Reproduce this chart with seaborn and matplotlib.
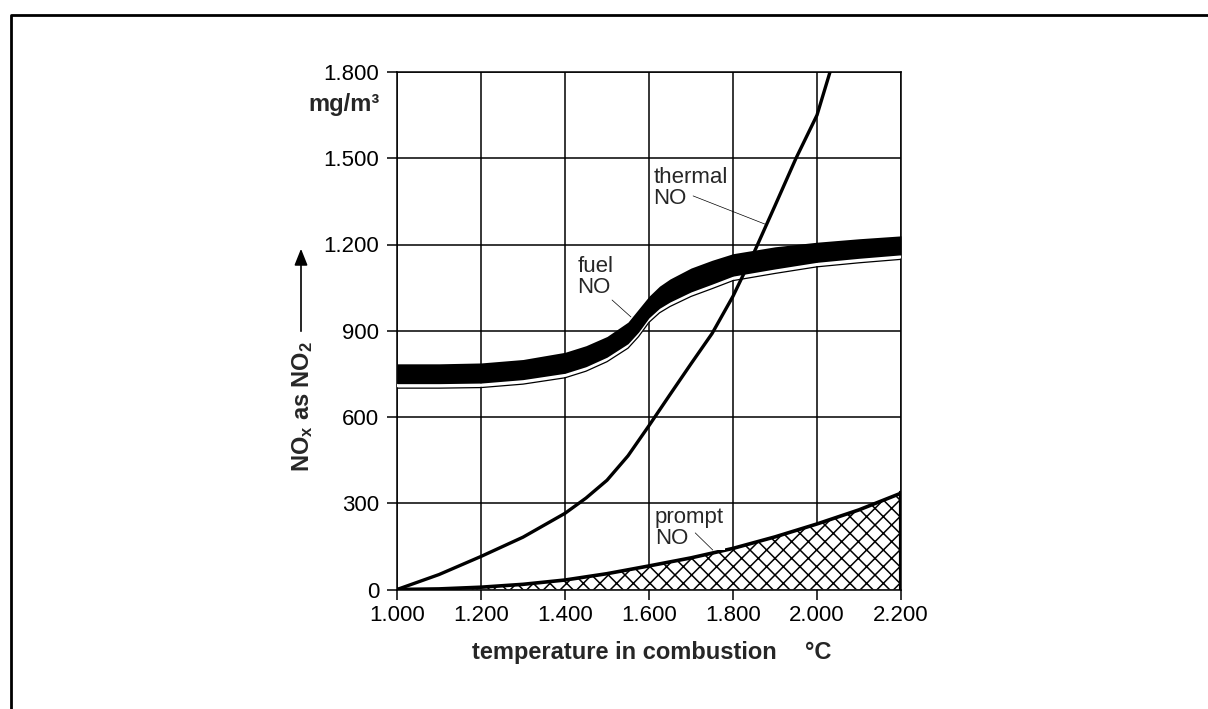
import numpy as np
import pandas as pd
import matplotlib
matplotlib.use("Agg")
import matplotlib.pyplot as plt
import matplotlib.transforms as mtransforms
from matplotlib.lines import Line2D
from matplotlib.patches import FancyArrowPatch
from matplotlib.ticker import FuncFormatter
import seaborn as sns

# --- Data ---
thermal_temp = [1000, 1100, 1200, 1300, 1400, 1450, 1500, 1550, 1600, 1650,
                1700, 1750, 1800, 1850, 1900, 1950, 2000, 2031]
thermal_no = [0, 52, 115, 182, 265, 318, 380, 465, 570, 678,
              785, 890, 1020, 1172, 1335, 1500, 1650, 1800]

fuel_temp = [1000, 1100, 1200, 1300, 1400, 1450, 1500, 1550, 1575, 1600, 1625,
             1650, 1700, 1750, 1800, 1900, 2000, 2100, 2200]
fuel_top = [785, 785, 788, 800, 825, 848, 880, 930, 975, 1020, 1055,
            1080, 1118, 1145, 1168, 1192, 1208, 1220, 1230]
fuel_bottom = [716, 716, 718, 730, 752, 775, 808, 855, 895, 945, 978,
               1000, 1035, 1062, 1090, 1115, 1138, 1152, 1164]

prompt_temp = [1000, 1100, 1200, 1300, 1400, 1500, 1600, 1700, 1800, 1900, 2000, 2100, 2200]
prompt_no = [0, 2, 8, 18, 33, 55, 82, 110, 143, 183, 228, 277, 335]

x_ticks = [1000, 1200, 1400, 1600, 1800, 2000, 2200]
y_ticks = [0, 300, 600, 900, 1200, 1500, 1800]

thermal = pd.DataFrame({"temp": thermal_temp, "no": thermal_no})
prompt = pd.DataFrame({"temp": prompt_temp, "no": prompt_no})

# --- Style ---
sns.set_theme(style="white")
plt.rcParams["font.family"] = ["Liberation Sans", "DejaVu Sans"]
plt.rcParams["mathtext.fontset"] = "custom"
plt.rcParams["mathtext.rm"] = "Liberation Sans"
plt.rcParams["mathtext.bf"] = "Liberation Sans:bold"
plt.rcParams["hatch.linewidth"] = 1.1
plt.rcParams["hatch.color"] = "black"

W, H = 1208, 709
fig = plt.figure(figsize=(W / 100, H / 100), dpi=100)
ax = fig.add_axes([397 / W, 1 - 589.5 / H, 504 / W, 517.5 / H])

# grid
for xt in x_ticks:
    ax.axvline(xt, color="black", lw=1.1, zorder=1)
for yt in y_ticks:
    ax.axhline(yt, color="black", lw=1.1, zorder=1)

# fuel NO band with the thin line just below it
off_white = mtransforms.offset_copy(ax.transData, fig=fig, x=0, y=-2, units="dots")
off_thin = mtransforms.offset_copy(ax.transData, fig=fig, x=0, y=-4.5, units="dots")
ax.plot(fuel_temp, fuel_bottom, color="white", lw=2.5, transform=off_white, zorder=2.8)
ax.plot(fuel_temp, fuel_bottom, color="black", lw=0.9, transform=off_thin, zorder=2.9)
ax.fill_between(fuel_temp, fuel_bottom, fuel_top, color="black", lw=0, zorder=3)

# prompt NO hatched area
ax.fill_between(prompt_temp, 0, prompt_no, facecolor="white", edgecolor="black",
                hatch="xx", lw=0, zorder=2)
sns.lineplot(data=prompt, x="temp", y="no", ax=ax, color="black", lw=2.6,
             estimator=None, sort=False, zorder=4)
ax.plot([prompt_temp[-1], prompt_temp[-1]], [0, prompt_no[-1]], color="black",
        lw=3, zorder=4, solid_capstyle="projecting")

# thermal NO line
sns.lineplot(data=thermal, x="temp", y="no", ax=ax, color="black", lw=2.4,
             estimator=None, sort=False, zorder=4)

# labels for the curves
lab_kw = dict(fontsize=16, ha="left", va="top", linespacing=1.0, zorder=5,
              bbox=dict(facecolor="white", edgecolor="none", pad=0.5))
ax.text(1610, 1470, "thermal\nNO", **lab_kw)
ax.plot([1705, 1876], [1369, 1271], color="black", lw=0.5, zorder=5)
ax.text(1429, 1160, "fuel\nNO", **lab_kw)
ax.plot([1512, 1557], [1007, 948], color="black", lw=0.5, zorder=5)
ax.text(1614, 286, "prompt\nNO", **lab_kw)
ax.plot([1710, 1752], [197, 137], color="black", lw=0.5, zorder=5)

# axes
ax.set_xlim(1000, 2200)
ax.set_ylim(0, 1800)
ax.set_xticks(x_ticks)
ax.set_yticks(y_ticks)
fmt = FuncFormatter(lambda v, p: f"{int(v):,}".replace(",", "."))
ax.xaxis.set_major_formatter(fmt)
ax.yaxis.set_major_formatter(fmt)
ax.tick_params(axis="both", direction="out", length=7.5, width=1.1, color="black",
               labelsize=16, labelcolor="black", bottom=True, left=True)
ax.tick_params(axis="y", pad=5.2)
ax.tick_params(axis="x", pad=3.5)
for s in ax.spines.values():
    s.set_color("black")
    s.set_linewidth(1.1)
ax.set_xlabel("")
ax.set_ylabel("")

# unit under top tick label
ax.text(-0.0337, 0.938, "mg/m³", transform=ax.transAxes, ha="right", va="center",
        fontsize=17, fontweight="bold")

# y axis title with arrow
fig.text(303 / W, 1 - 406 / H, r"$\mathbf{NO_x}$ $\mathbf{as}$ $\mathbf{NO_2}$",
         rotation=90, ha="center", va="center", fontsize=17, fontweight="bold")
fig.add_artist(FancyArrowPatch(
    (301 / W, 1 - 334 / H), (301 / W, 1 - 246 / H),
    transform=fig.transFigure, arrowstyle="-|>,head_length=10,head_width=4",
    color="black", lw=1.2, mutation_scale=1))

# x axis title
fig.text(472 / W, 1 - 659 / H, "temperature in combustion", ha="left", va="baseline",
         fontsize=17, fontweight="bold")
fig.text(805 / W, 1 - 659 / H, "°C", ha="left", va="baseline",
         fontsize=17, fontweight="bold")

# frame around the picture (top and left visible)
fig.add_artist(Line2D([10.5 / W, 10.5 / W, 1.0], [0.0, 1 - 14.5 / H, 1 - 14.5 / H],
                      transform=fig.transFigure, color="black", lw=2))

fig.savefig("out.png", dpi=100, facecolor="white")
